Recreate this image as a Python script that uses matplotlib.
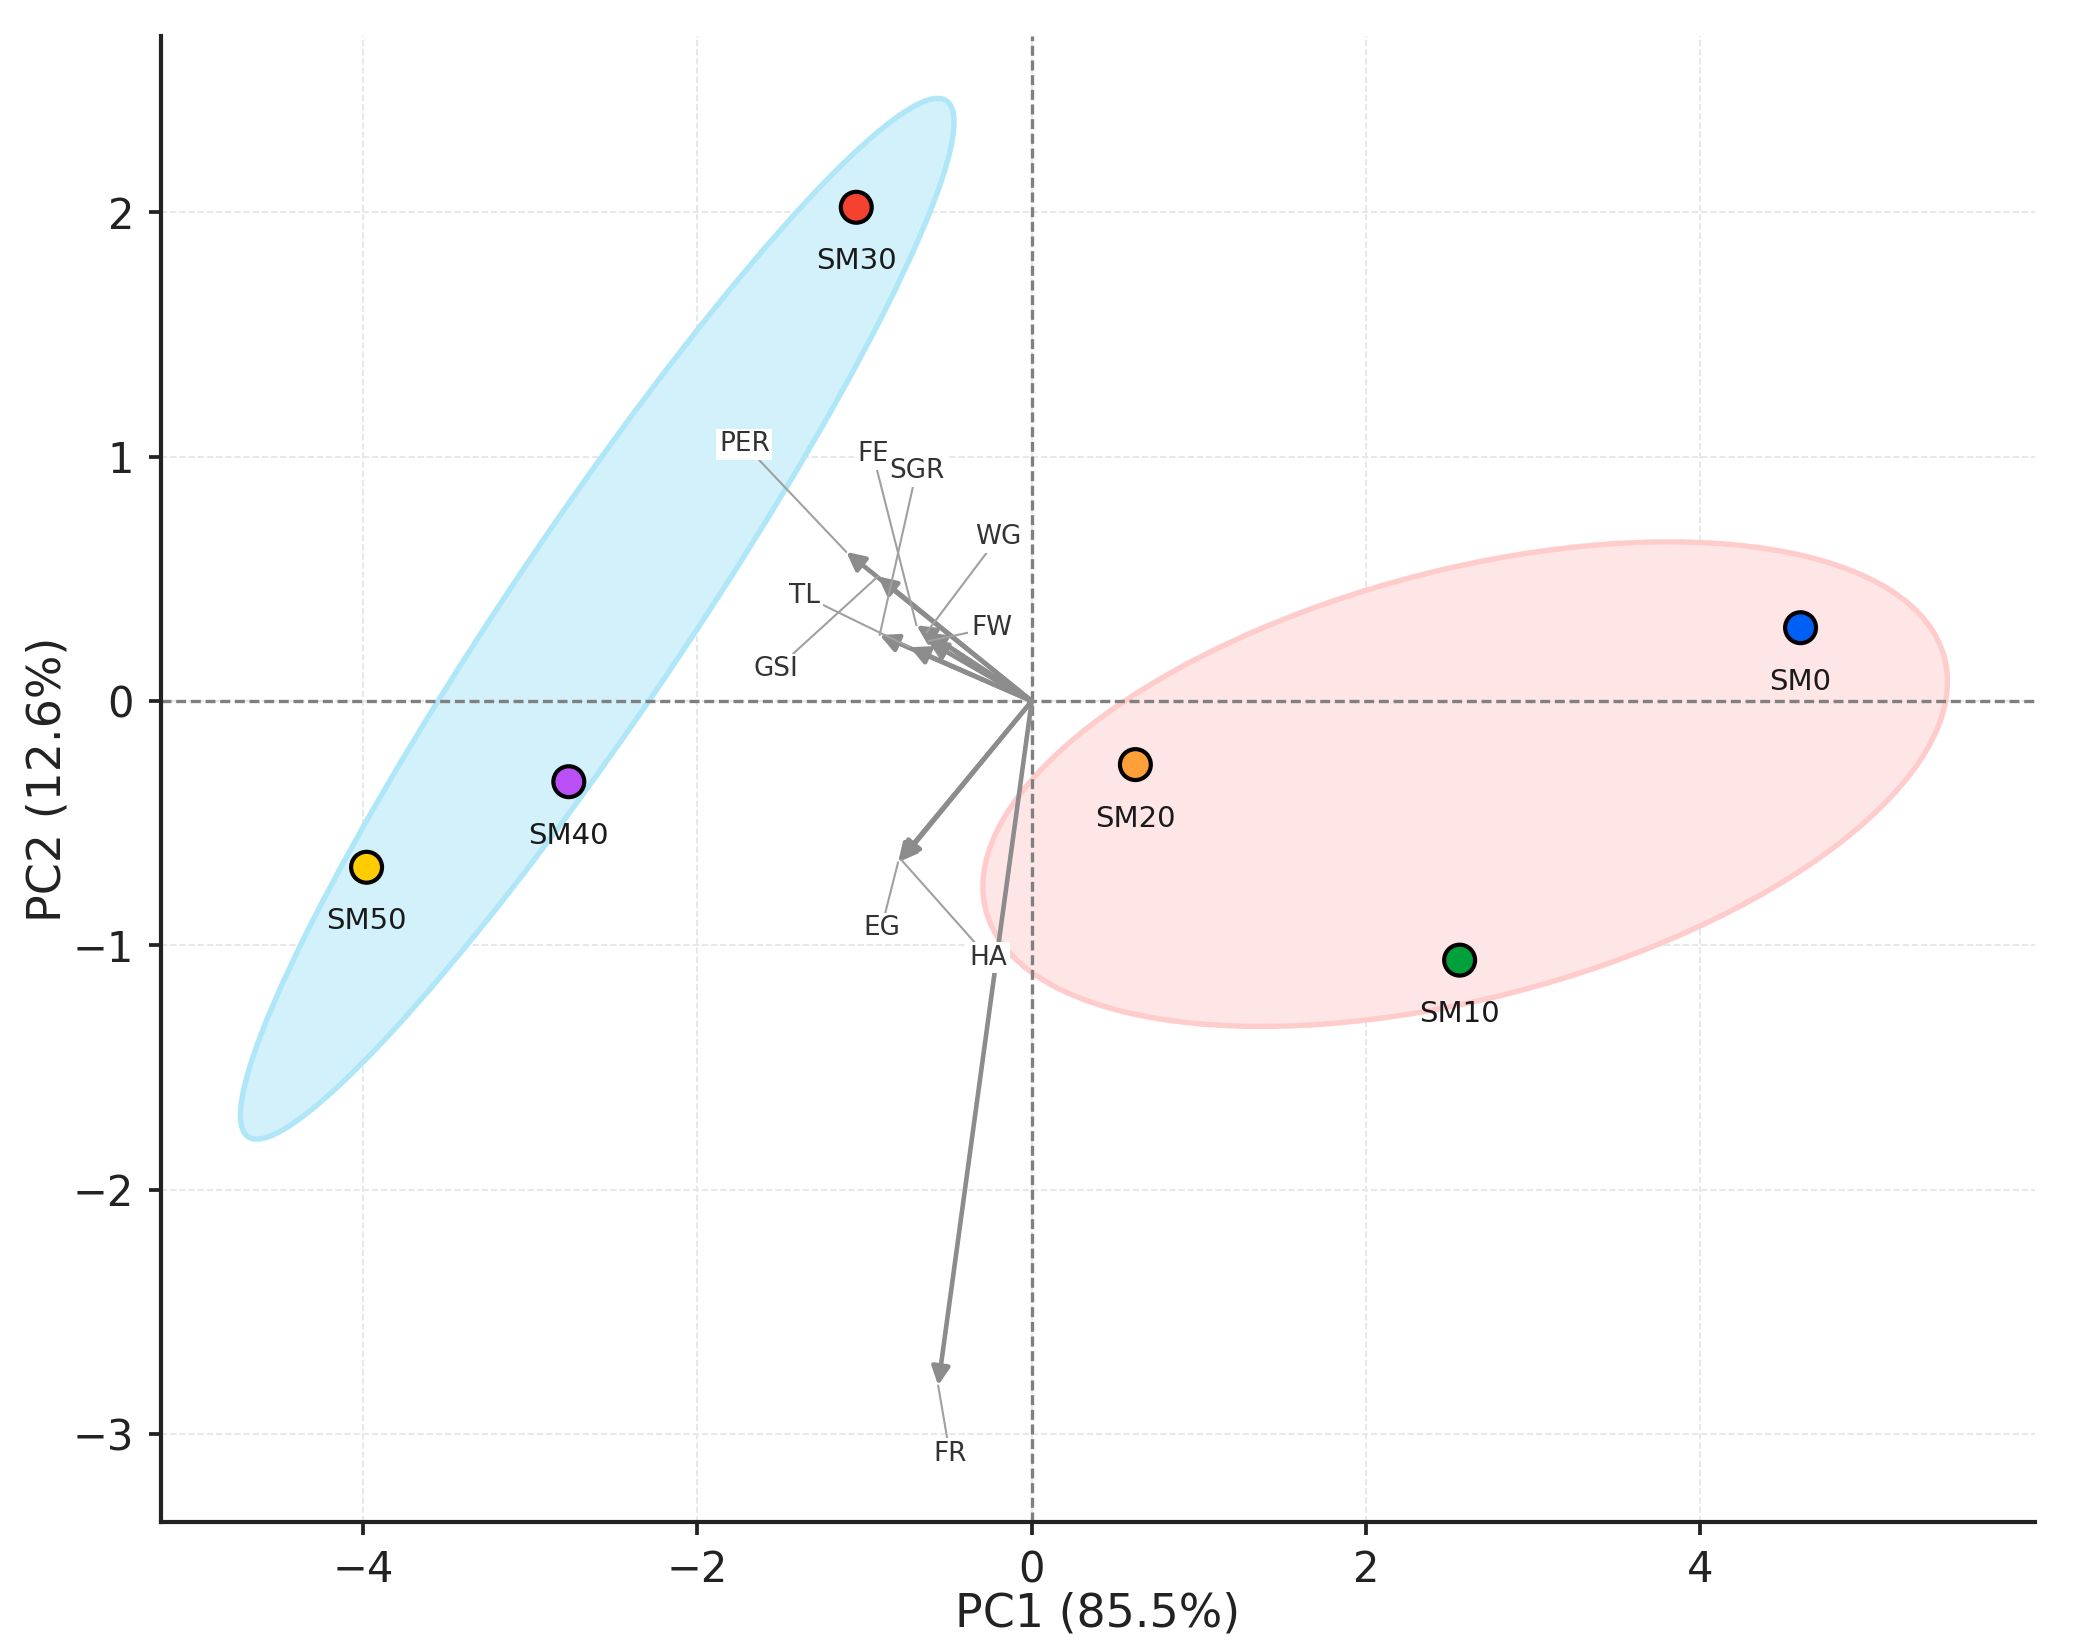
import matplotlib
matplotlib.use('Agg')
import matplotlib.pyplot as plt
import numpy as np
from matplotlib.patches import Ellipse

# sample scores on the first two components
samples = ['SM0', 'SM10', 'SM20', 'SM30', 'SM40', 'SM50']
pc1 = [4.60, 2.56, 0.62, -1.05, -2.77, -3.98]
pc2 = [0.30, -1.06, -0.26, 2.02, -0.33, -0.68]
colors = ['#005ff5', '#00a03c', '#ff9f3a', '#f5412f', '#b94ff5', '#ffcc00']

# groups used for the ellipses
group_a = ['SM0', 'SM10', 'SM20']
group_b = ['SM30', 'SM40', 'SM50']

# variable loadings (scaled)
variables = ['PER', 'FE', 'SGR', 'WG', 'TL', 'FW', 'GSI', 'EG', 'HA', 'FR']
load1 = [-1.11, -0.69, -0.91, -0.63, -0.73, -0.62, -0.92, -0.80, -0.78, -0.56]
load2 = [0.61, 0.31, 0.27, 0.28, 0.22, 0.245, 0.51, -0.66, -0.65, -2.80]

# where the variable names ended up after label repelling
label_pos = {
    'PER': (-1.72, 1.05), 'FE': (-0.95, 1.01), 'SGR': (-0.69, 0.94),
    'WG': (-0.20, 0.67), 'TL': (-1.36, 0.43), 'FW': (-0.24, 0.30),
    'GSI': (-1.53, 0.13), 'EG': (-0.90, -0.93), 'HA': (-0.26, -1.05),
    'FR': (-0.49, -3.08),
}


def group_ellipse(ax, xs, ys, n_std, face, edge):
    xs = np.asarray(xs)
    ys = np.asarray(ys)
    cov = np.cov(xs, ys)
    vals, vecs = np.linalg.eigh(cov)
    order = vals.argsort()[::-1]
    vals, vecs = vals[order], vecs[:, order]
    angle = np.degrees(np.arctan2(vecs[1, 0], vecs[0, 0]))
    w, h = 2 * n_std * np.sqrt(vals)
    ell = Ellipse((xs.mean(), ys.mean()), w, h, angle=angle,
                  facecolor=face, edgecolor=edge, lw=1.3, zorder=1)
    ax.add_patch(ell)


fig = plt.figure(figsize=(6.97, 5.48), dpi=300)
ax = fig.add_axes([0.077, 0.074, 0.896, 0.904])

idx = {s: i for i, s in enumerate(samples)}
ia = [idx[s] for s in group_a]
ib = [idx[s] for s in group_b]
group_ellipse(ax, [pc1[i] for i in ia], [pc2[i] for i in ia], 1.45, '#ffe6e6', '#ffcccc')
group_ellipse(ax, [pc1[i] for i in ib], [pc2[i] for i in ib], 1.45, '#d3f1fb', '#b0e7f8')

ax.axhline(0, color='#808080', lw=0.8, linestyle=(0, (3.0, 1.4)), zorder=2)
ax.axvline(0, color='#808080', lw=0.8, linestyle=(0, (3.0, 1.4)), zorder=2)

# loading arrows
for name, lx, ly in zip(variables, load1, load2):
    ax.annotate('', xy=(lx, ly), xytext=(0, 0),
                arrowprops=dict(arrowstyle='-|>', color='#8c8c8c', lw=1.1,
                                mutation_scale=9, shrinkA=0, shrinkB=0),
                zorder=3)
for name, lx, ly in zip(variables, load1, load2):
    tx, ty = label_pos[name]
    ax.annotate(name, xy=(lx, ly), xytext=(tx, ty), fontsize=6.3, color='#333333',
                ha='center', va='center',
                bbox=dict(boxstyle='square,pad=0.1', fc='white', ec='none'),
                arrowprops=dict(arrowstyle='-', color='#a0a0a0', lw=0.5,
                                shrinkA=0, shrinkB=0),
                zorder=4)

# sample points
ax.scatter(pc1, pc2, s=55, c=colors, edgecolors='black', linewidths=1.0, zorder=5)
for s, x, y in zip(samples, pc1, pc2):
    ax.annotate(s, (x, y), xytext=(0, -13), textcoords='offset points',
                ha='center', va='center', fontsize=7, color='#1a1a1a', zorder=6)

ax.set_xlim(-5.21, 6.0)
ax.set_ylim(-3.36, 2.72)
ax.set_xticks([-4, -2, 0, 2, 4])
ax.set_yticks([-3, -2, -1, 0, 1, 2])
ax.grid(True, color='#e8e8e8', lw=0.5, linestyle=(0, (3.0, 1.4)), zorder=0)
ax.set_axisbelow(True)
ax.spines['top'].set_visible(False)
ax.spines['right'].set_visible(False)
for sp in ('left', 'bottom'):
    ax.spines[sp].set_linewidth(1.0)
    ax.spines[sp].set_color('#222222')
ax.tick_params(labelsize=10, length=3, width=0.9, colors='#222222')
ax.set_xlabel('PC1 (85.5%)', fontsize=11, color='#222222', labelpad=0)
ax.set_ylabel('PC2 (12.6%)', fontsize=11, color='#222222', labelpad=0.5)

fig.savefig('out.png', dpi=300)
